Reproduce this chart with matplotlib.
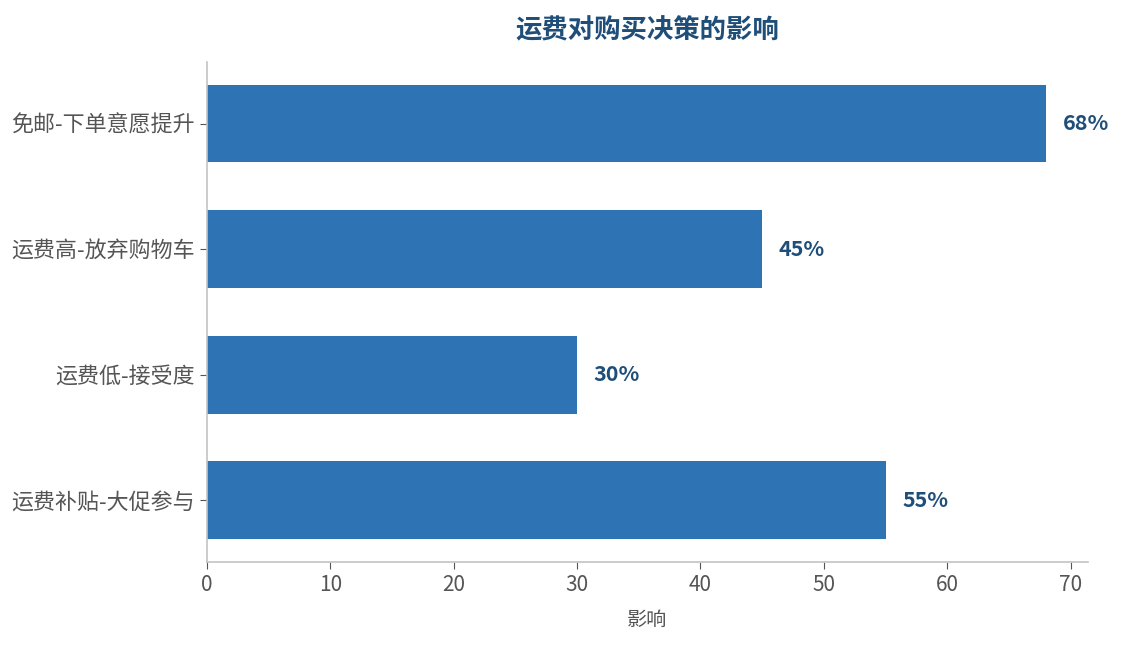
import matplotlib
matplotlib.use("Agg")
import matplotlib.pyplot as plt

plt.rcParams['font.family'] = ['Noto Sans CJK SC', 'DejaVu Sans']

categories = ["免邮-下单意愿提升", "运费高-放弃购物车", "运费低-接受度", "运费补贴-大促参与"]
values = [68, 45, 30, 55]
value_labels = ["68%", "45%", "30%", "55%"]

bar_color = "#2E74B5"
dark_blue = "#1F4E79"
grey_text = "#555555"
spine_grey = "#C4C4C4"

fig = plt.figure(figsize=(11.25, 6.45), dpi=100)
ax = fig.add_axes([0.184, 0.129, 0.783, 0.775])

ypos = list(range(len(categories)))
ax.barh(ypos, values, height=0.62, color=bar_color)
ax.invert_yaxis()
ax.set_yticks(ypos)
ax.set_yticklabels(categories)
ax.set_xlim(0, max(values) * 1.05)

for y, v, lab in zip(ypos, values, value_labels):
    ax.text(v + 1.35, y, lab, va="center", ha="left",
            fontsize=15.5, fontweight="bold", color=dark_blue)

ax.set_title("运费对购买决策的影响", fontsize=19, fontweight="bold",
             color=dark_blue, pad=17)
ax.set_xlabel("影响", fontsize=14.5, color=grey_text, labelpad=10)

for side in ["top", "right"]:
    ax.spines[side].set_visible(False)
for side in ["left", "bottom"]:
    ax.spines[side].set_color(spine_grey)
    ax.spines[side].set_linewidth(1.2)
ax.tick_params(axis="both", colors=grey_text, labelsize=15, length=5)
ax.tick_params(axis="y", labelsize=15.8)

fig.savefig("out.png", dpi=100)
